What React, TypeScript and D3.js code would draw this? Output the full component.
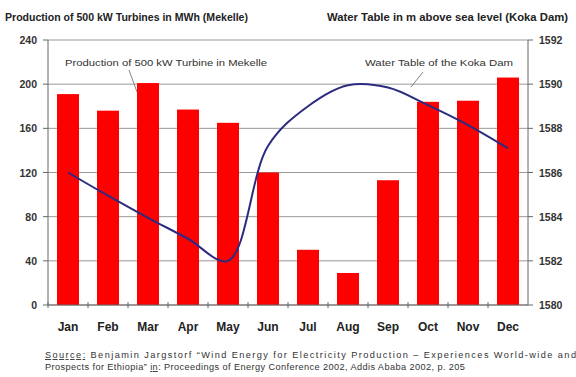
import React from "react";
import * as d3 from "d3";

const months = ["Jan","Feb","Mar","Apr","May","Jun","Jul","Aug","Sep","Oct","Nov","Dec"];
const production = [191, 176, 201, 177, 165, 120, 50, 29, 113, 184, 185, 206];
const waterTable = [1586.0, 1584.95, 1583.95, 1583.0, 1582.0, 1587.2, 1589.0, 1589.95, 1589.85, 1589.05, 1588.15, 1587.1];
const leftTicks = [0, 40, 80, 120, 160, 200, 240];
const rightTicks = [1580, 1582, 1584, 1586, 1588, 1590, 1592];

const W = 576, H = 377;
const m = { left: 48, right: 528, top: 40, bottom: 305 };

export default function App() {
  const x = d3.scaleBand<string>().domain(months).range([m.left, m.right]).paddingInner(0.45).paddingOuter(0.225);
  const xc = d3.scaleBand<string>().domain(months).range([m.left, m.right]);
  const y = d3.scaleLinear().domain([0, 240]).range([m.bottom, m.top]);
  const y2 = d3.scaleLinear().domain([1580, 1592]).range([m.bottom, m.top]);
  const line = d3.line<number>()
    .x((_, i) => (xc(months[i]) as number) + xc.bandwidth() / 2)
    .y((d) => y2(d))
    .curve(d3.curveCatmullRom.alpha(0.5));
  const font = "Arial, 'Liberation Sans', sans-serif";
  return (
    <svg width={W} height={H} style={{ position: "absolute", left: 0, top: 0, background: "#fff" }} fontFamily={font}>
      <text x={5} y={21} fontSize={10} fontWeight="bold" fill="#222" textLength={243} lengthAdjust="spacingAndGlyphs">Production of 500 kW Turbines in MWh (Mekelle)</text>
      <text x={327} y={21} fontSize={10} fontWeight="bold" fill="#222" textLength={241} lengthAdjust="spacingAndGlyphs">Water Table in m above sea level (Koka Dam)</text>
      {leftTicks.map((t) => (
        <g key={"g" + t}>
          <line x1={m.left} x2={m.right} y1={y(t)} y2={y(t)} stroke="#999" strokeWidth={1} />
          <line x1={m.left - 5} x2={m.left} y1={y(t)} y2={y(t)} stroke="#666" />
          <text x={37} y={y(t) + 4} fontSize={10.5} fontWeight="bold" textAnchor="end" fill="#333">{t}</text>
        </g>
      ))}
      {rightTicks.map((t) => (
        <g key={"r" + t}>
          <line x1={m.right} x2={m.right + 5} y1={y2(t)} y2={y2(t)} stroke="#666" />
          <text x={539} y={y2(t) + 4} fontSize={10.5} fontWeight="bold" fill="#333">{t}</text>
        </g>
      ))}
      <line x1={m.left} x2={m.left} y1={m.top} y2={m.bottom} stroke="#666" />
      <line x1={m.right} x2={m.right} y1={m.top} y2={m.bottom} stroke="#666" />
      {production.map((v, i) => (
        <rect key={months[i]} x={x(months[i])} width={x.bandwidth()} y={y(v)} height={y(0) - y(v)} fill="#ff0000" />
      ))}
      <line x1={m.left} x2={m.right} y1={m.bottom} y2={m.bottom} stroke="#666" />
      {months.map((mo) => (
        <line key={"t" + mo} x1={(xc(mo) as number)} x2={(xc(mo) as number)} y1={m.bottom - 3} y2={m.bottom + 3} stroke="#666" />
      ))}
      <path d={line(waterTable) || ""} fill="none" stroke="#2b2b80" strokeWidth={2} />
      {months.map((mo) => (
        <text key={"l" + mo} x={(xc(mo) as number) + xc.bandwidth() / 2} y={331} fontSize={12} fontWeight="bold" textAnchor="middle" fill="#222">{mo}</text>
      ))}
      <text x={65} y={66} fontSize={9} fill="#333" textLength={202} lengthAdjust="spacingAndGlyphs">Production of 500 kW Turbine in Mekelle</text>
      <line x1={129} y1={70} x2={137} y2={92} stroke="#666" strokeWidth={0.8} />
      <text x={365} y={66} fontSize={9} fill="#333" textLength={148} lengthAdjust="spacingAndGlyphs">Water Table of the Koka Dam</text>
      <line x1={423} y1={72} x2={411} y2={87} stroke="#666" strokeWidth={0.8} />
      <text x={45} y={358} fontSize={9.2} fill="#333" textLength={531} lengthAdjust="spacing">
        <tspan textDecoration="underline">Source:</tspan> Benjamin Jargstorf “Wind Energy for Electricity Production – Experiences World-wide and
      </text>
      <text x={45} y={370} fontSize={9.2} fill="#333" textLength={420} lengthAdjust="spacing">
        Prospects for Ethiopia” <tspan textDecoration="underline">in</tspan>: Proceedings of Energy Conference 2002, Addis Ababa 2002, p. 205
      </text>
    </svg>
  );
}
